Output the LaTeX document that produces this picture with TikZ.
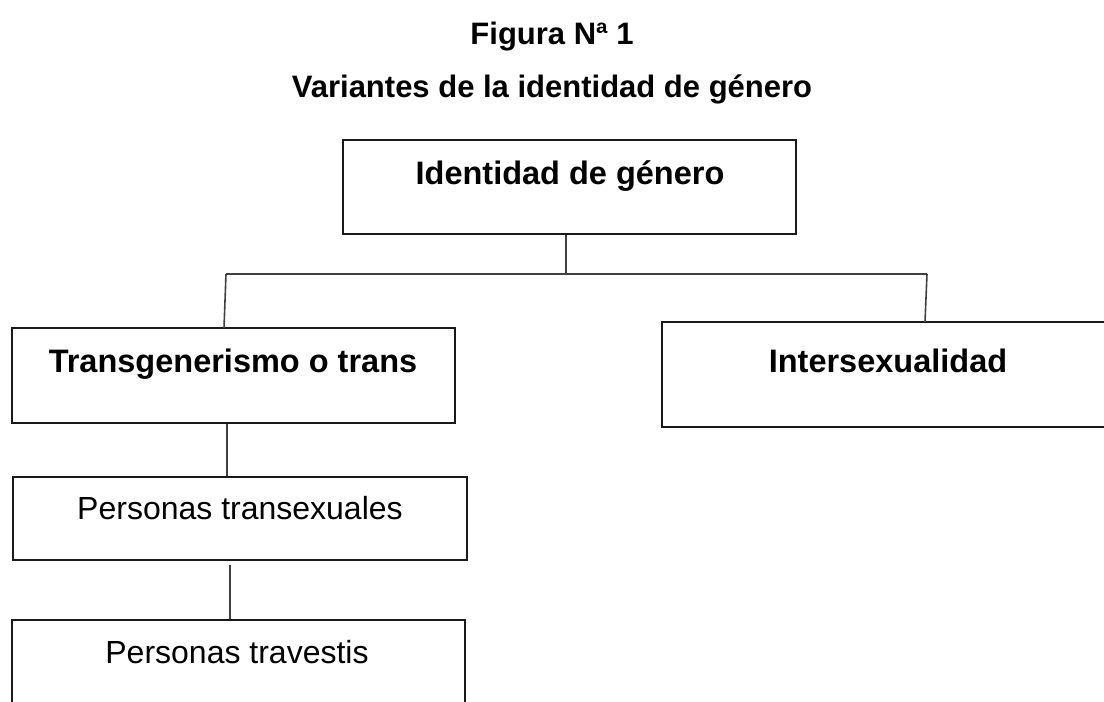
\documentclass[tikz,border=0pt]{standalone}
\usepackage{fontspec}
\setmainfont{Liberation Sans}
\begin{document}
\begin{tikzpicture}[x=1pt,y=-1pt,
  box/.style={draw=black!90, line width=2.6pt, inner sep=0pt},
  conn/.style={draw=black!75, line width=1.6pt},
  big/.style={anchor=base, inner sep=0pt, font=\fontsize{32.5}{38}\selectfont\bfseries},
  small/.style={anchor=base, inner sep=0pt, font=\fontsize{32}{38}\selectfont},
  ttl/.style={anchor=base, inner sep=0pt, font=\fontsize{31}{36}\selectfont\bfseries}]
\useasboundingbox (0,0) rectangle (1104,702);
\clip (0,0) rectangle (1104,702);
% titles
\node[ttl] (t1) at (552,44) {Figura Nª 1};
\node[ttl] (t2) at (552,97) {Variantes de la identidad de género};
% boxes
\node[box, minimum width=453pt, minimum height=94pt] (A) at (569.5,187) {};
\node[big] (At) at (570,184.5) {Identidad de género};
\node[box, minimum width=443pt, minimum height=95pt] (B) at (233.5,375.5) {};
\node[big] (Bt) at (233,372.5) {Transgenerismo o trans};
\node[box, minimum width=452pt, minimum height=105pt] (C) at (888,374.5) {};
\node[big] (Ct) at (888,372.5) {Intersexualidad};
\node[box, minimum width=454pt, minimum height=83pt] (D) at (240,518.5) {};
\node[small] (Dt) at (240,519) {Personas transexuales};
\node[box, minimum width=453pt, minimum height=110pt] (E) at (238.5,675) {};
\node[small] (Et) at (237,663) {Personas travestis};
% connectors
\coordinate (bl) at (226,274);
\coordinate (br) at (927,274);
\coordinate (bt) at (224,328);
\coordinate (ct) at (925,322);
\draw[conn] (A.south -| 566,0) -- (566,274);
\draw[conn] (bl) -- (br);
\draw[conn] (bl) -- (bt);
\draw[conn] (br) -- (ct);
\draw[conn] (B.south -| 227,0) -- (D.north -| 227,0);
\draw[conn] (230,565) -- (E.north -| 230,0);
\end{tikzpicture}
\end{document}
